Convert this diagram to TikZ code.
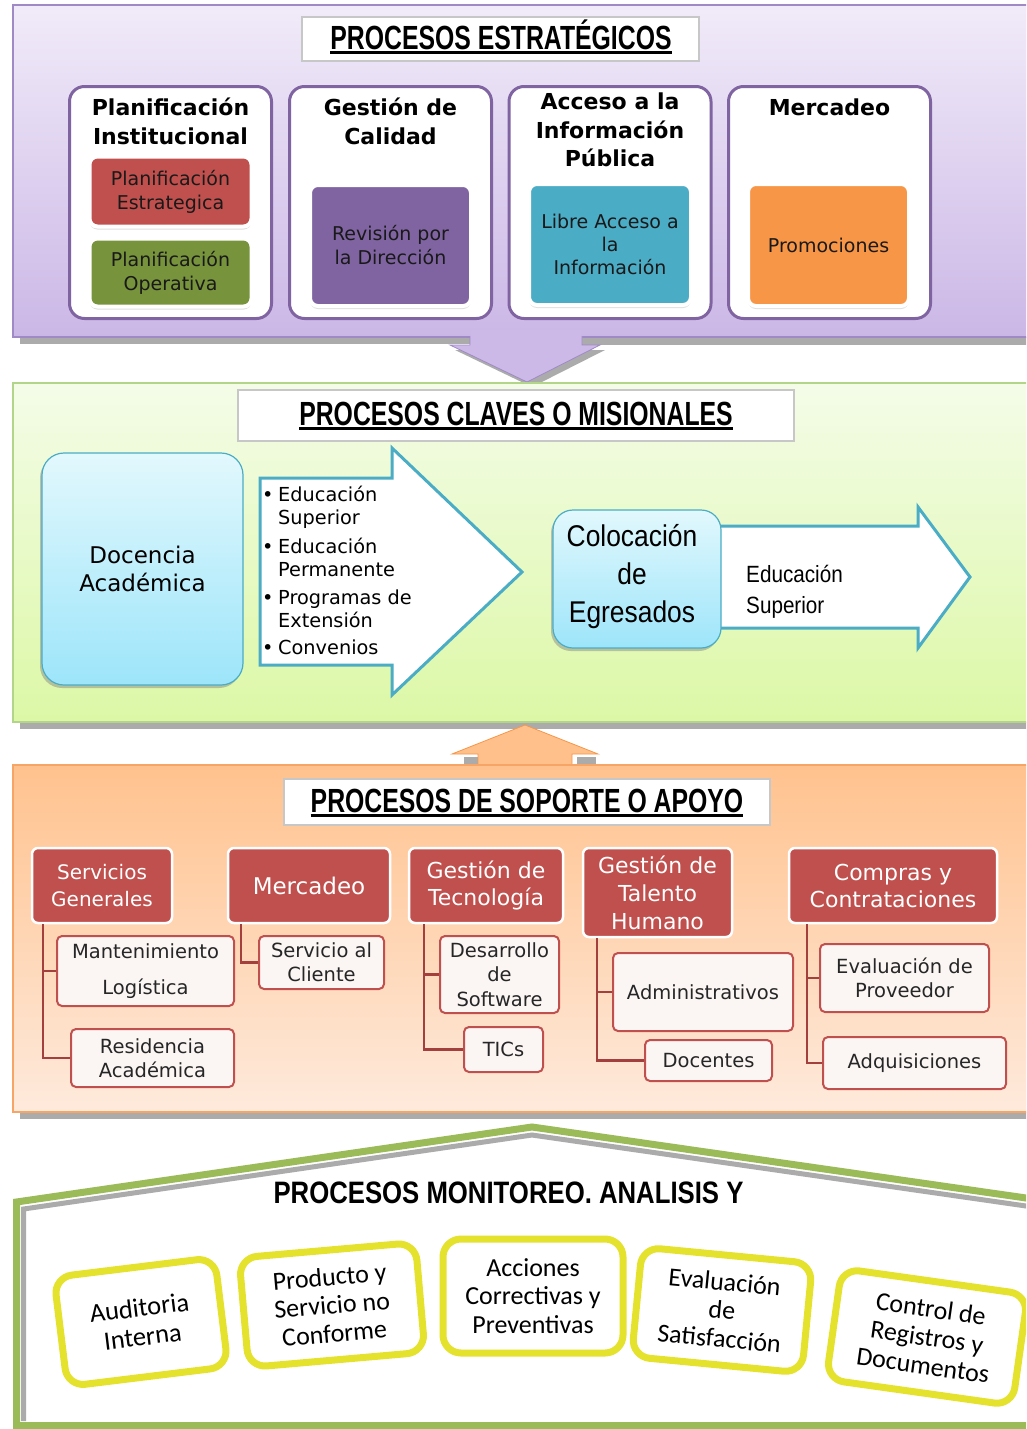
\documentclass[tikz,border=0pt]{standalone}
\usepackage{fontspec}
\setmainfont{DejaVu Sans}
\newfontfamily\titlef[FakeStretch=0.74]{Liberation Sans}
\newfontfamily\titleg[FakeStretch=0.83]{Liberation Sans}
\newfontfamily\narrowf[FakeStretch=0.88]{Liberation Sans}
\newfontfamily\calf{Carlito}
\usetikzlibrary{shadows}
\newcommand{\fsz}[2]{\fontsize{#1}{#2}\selectfont}
\definecolor{purTop}{HTML}{F1EBF9}
\definecolor{purBot}{HTML}{CBB7E6}
\definecolor{purLine}{HTML}{9F8AC6}
\definecolor{boxpur}{HTML}{8064A2}
\definecolor{grTop}{HTML}{F4FCE8}
\definecolor{grBot}{HTML}{DCF8A6}
\definecolor{grLine}{HTML}{B3D58A}
\definecolor{orTop}{HTML}{FFC28E}
\definecolor{orBot}{HTML}{FEEADC}
\definecolor{orLine}{HTML}{F7A467}
\definecolor{cRed}{HTML}{C0504D}
\definecolor{cGreen}{HTML}{77933C}
\definecolor{cPur}{HTML}{8064A2}
\definecolor{cTeal}{HTML}{4BACC6}
\definecolor{cOrange}{HTML}{F79646}
\definecolor{cyTop}{HTML}{E2F8FD}
\definecolor{cyBot}{HTML}{9DE5FA}
\definecolor{cyLine}{HTML}{4BACC6}
\definecolor{connRed}{HTML}{A3403D}
\definecolor{subFill}{HTML}{FBF6F4}
\definecolor{yel}{HTML}{E5E22E}
\definecolor{house}{HTML}{9BBB59}
\definecolor{shdw}{HTML}{ABABAB}
\definecolor{upArr}{HTML}{FFC08C}
\definecolor{dnArr}{HTML}{CDB9E8}
\tikzset{
  secttl/.style={font=\titlef\bfseries\fsz{33.5}{36}, inner sep=0pt, anchor=base},
  ttlbox/.style={draw=black!22, fill=white, line width=1.2pt},
  pbox/.style={draw=boxpur, line width=3pt, rounded corners=15pt, fill=white},
  ptitle/.style={font=\bfseries\fsz{22}{29}, align=center, inner sep=0pt},
  cbox/.style={draw=white, line width=4pt, rounded corners=8pt,
    drop shadow={shadow xshift=0pt, shadow yshift=-3pt, opacity=0.25},
    font=\fsz{19}{24}, align=center, text=black!90, inner sep=2pt},
  cyanbox/.style={rounded corners=22pt, top color=cyTop, bottom color=cyBot,
    draw=cyLine, line width=1.2pt,
    drop shadow={shadow xshift=-2pt, shadow yshift=-3pt, opacity=0.45},
    align=center},
  bigarrow/.style={draw=cyLine, line width=3pt, fill=white, line join=miter},
  hdr/.style={fill=cRed, draw=white, line width=2.5pt, rounded corners=6pt,
    text=white, font=\fsz{22}{27}, align=center, inner sep=1pt},
  sub/.style={fill=subFill, draw=cRed, line width=2pt, rounded corners=5pt,
    font=\fsz{19.5}{24}, align=center, text=black!85, inner sep=1pt},
  conn/.style={draw=connRed, line width=2.5pt},
  ybox/.style={draw=yel, line width=7pt, rounded corners=18pt, fill=white,
    font=\calf\fsz{26}{28.5}, align=center, inner sep=0pt, text=black}
}
\begin{document}
\begin{tikzpicture}[x=1pt,y=-1pt]
\useasboundingbox (0,0) rectangle (1026,1429);
\clip (0,0) rectangle (1026,1429);
\fill[white] (0,0) rectangle (1026,1429);

% ---------- Section 1 : strategic ----------
\fill[shdw] (20,337) rectangle (470,344);
\fill[shdw] (582,337) rectangle (1040,345);
\shadedraw[top color=purTop, bottom color=purBot, draw=purLine, line width=1.2pt] (13,5) rectangle (1040,337);
\fill[shdw] (475,342) -- (475,350) -- (455,350) -- (532,387) -- (605,350) -- (587,350) -- (587,342) -- cycle;
\filldraw[fill=dnArr, draw=purLine, line width=0.8pt] (470,336) -- (470,345) -- (450,345) -- (527,382) -- (600,345) -- (582,345) -- (582,336);
\fill[dnArr] (471,330) rectangle (581,338);

\node[ttlbox, minimum width=397pt, minimum height=44pt] (tb1) at (500.5,39) {};
\node[secttl] (t1) at (501,49) {PROCESOS ESTRATÉGICOS};
\draw[line width=2.6pt] ([yshift=-3.5pt]t1.base west) -- ([yshift=-3.5pt]t1.base east);

\node[pbox, minimum width=202pt, minimum height=232pt] (p1) at (170.5,202.5) {};
\node[pbox, minimum width=202pt, minimum height=232pt] (p2) at (390.5,202.5) {};
\node[pbox, minimum width=202pt, minimum height=232pt] (p3) at (610,202.5) {};
\node[pbox, minimum width=202pt, minimum height=232pt] (p4) at (829.5,202.5) {};

\node[ptitle] (p1t) at (170.5,121) {Planificación\\Institucional};
\node[ptitle] (p2t) at (390.5,121) {Gestión de\\Calidad};
\node[ptitle, font=\bfseries\fsz{22}{28.5}] (p3t) at (610,130) {Acceso a la\\Información\\Pública};
\node[ptitle] (p4t) at (829.5,107) {Mercadeo};

\node[cbox, fill=cRed, minimum width=162pt, minimum height=70pt] (c1) at (170.5,191.5) {Planificación\\Estrategica};
\node[cbox, fill=cGreen, minimum width=162pt, minimum height=68pt] (c2) at (170.5,272.5) {Planificación\\Operativa};
\node[cbox, fill=cPur, minimum width=161pt, minimum height=121pt] (c3) at (390.5,245.5) {Revisión por\\la Dirección};
\node[cbox, fill=cTeal, minimum width=162pt, minimum height=121pt, font=\fsz{19}{23}] (c4) at (610,244.5) {Libre Acceso a\\la\\Información};
\node[cbox, fill=cOrange, minimum width=161pt, minimum height=122pt] (c5) at (828.5,245) {Promociones};

% ---------- Section 2 : key processes ----------
\fill[shdw] (20,722) rectangle (1040,729);
\shadedraw[top color=grTop, bottom color=grBot, draw=grLine, line width=1.2pt] (13,383) rectangle (1040,722);

\node[ttlbox, minimum width=556pt, minimum height=51pt] (tb2) at (516,415.5) {};
\node[secttl] (t2) at (516,425) {PROCESOS CLAVES O MISIONALES};
\draw[line width=2.6pt] ([yshift=-3.5pt]t2.base west) -- ([yshift=-3.5pt]t2.base east);

\node[cyanbox, minimum width=201pt, minimum height=232pt, font=\fsz{23}{28}] (doc) at (142.5,569) {Docencia\\Académica};

\draw[bigarrow] (260,478) -- (392,478) -- (392,448) -- (522,572) -- (392,695) -- (392,665) -- (260,665) -- cycle;
\node[anchor=north west, align=left, font=\fsz{19.3}{23}, inner sep=0pt] (lista) at (262,486)
  {\makebox[16pt][l]{•}Educación\\\hspace*{16pt}Superior\\[6pt]
   \makebox[16pt][l]{•}Educación\\\hspace*{16pt}Permanente\\[5pt]
   \makebox[16pt][l]{•}Programas de\\\hspace*{16pt}Extensión\\[4pt]
   \makebox[16pt][l]{•}Convenios};

\draw[bigarrow] (715,526) -- (918,526) -- (918,507) -- (970,577) -- (918,648) -- (918,628) -- (715,628) -- cycle;
\node[cyanbox, minimum width=168pt, minimum height=138pt, rounded corners=20pt] (col) at (637,579) {};
\node[align=center, inner sep=0pt, font=\narrowf\fsz{30}{38}] (colt) at (632,577) {Colocación\\de\\Egresados};
\node[anchor=west, align=left, inner sep=0pt, font=\narrowf\fsz{23.5}{31}] (edsup) at (746,592) {Educación\\Superior};

% up arrow
\fill[shdw] (483,757) rectangle (464,766);
\fill[shdw] (577,757) rectangle (596,766);
\filldraw[fill=upArr, draw=cOrange, line width=0.8pt] (478,766) -- (478,754) -- (452,754) -- (525,725) -- (598,754) -- (572,754) -- (572,766);

% ---------- Section 3 : support ----------
\fill[shdw] (20,1112) rectangle (1040,1119);
\shadedraw[top color=orTop, bottom color=orBot, draw=orLine, line width=1.2pt] (13,765) rectangle (1040,1112);

\node[ttlbox, minimum width=486pt, minimum height=46pt] (tb3) at (527,802) {};
\node[secttl] (t3) at (527,812) {PROCESOS DE SOPORTE O APOYO};
\draw[line width=2.6pt] ([yshift=-3.5pt]t3.base west) -- ([yshift=-3.5pt]t3.base east);

\node[hdr, minimum width=140pt, minimum height=75pt, font=\fsz{20}{27}] (sg) at (102,885.5) {Servicios\\Generales};
\node[hdr, minimum width=162pt, minimum height=75pt, font=\fsz{23}{27}] (mer) at (309,885.5) {Mercadeo};
\node[hdr, minimum width=154pt, minimum height=75pt] (tec) at (486,885.5) {Gestión de\\Tecnología};
\node[hdr, minimum width=149pt, minimum height=89pt, font=\fsz{22}{28}] (tal) at (657.5,892.5) {Gestión de\\Talento\\Humano};
\node[hdr, minimum width=208pt, minimum height=75pt] (com) at (893,885.5) {Compras y\\Contrataciones};

\node[sub, minimum width=177pt, minimum height=70pt] (man) at (145.5,971) {Mantenimiento\\[12pt]Logística};
\node[sub, minimum width=163pt, minimum height=58pt] (res) at (152.5,1058) {Residencia\\Académica};
\node[sub, minimum width=125pt, minimum height=53pt] (cli) at (321.5,962.5) {Servicio al\\Cliente};
\node[sub, minimum width=119pt, minimum height=77pt, font=\fsz{19.5}{24.5}] (des) at (499.5,974.5) {Desarrollo\\de\\Software};
\node[sub, minimum width=79pt, minimum height=45pt] (tic) at (503.5,1049.5) {TICs};
\node[sub, minimum width=180pt, minimum height=78pt] (adm) at (703,992) {Administrativos};
\node[sub, minimum width=127pt, minimum height=41pt] (dcn) at (708.5,1060.5) {Docentes};
\node[sub, minimum width=169pt, minimum height=68pt] (eva) at (904.5,978) {Evaluación de\\Proveedor};
\node[sub, minimum width=183pt, minimum height=52pt] (adq) at (914.5,1063) {Adquisiciones};

\draw[conn] ([xshift=12pt]sg.south west) |- (man.west);
\draw[conn] ([xshift=12pt]sg.south west) |- (res.west);
\draw[conn] ([xshift=14pt]mer.south west) |- (cli.west);
\draw[conn] ([xshift=16pt]tec.south west) |- (des.west);
\draw[conn] ([xshift=16pt]tec.south west) |- (tic.west);
\draw[conn] ([xshift=15pt]tal.south west) |- (adm.west);
\draw[conn] ([xshift=15pt]tal.south west) |- (dcn.west);
\draw[conn] ([xshift=19pt]com.south west) |- (eva.west);
\draw[conn] ([xshift=19pt]com.south west) |- (adq.west);

% ---------- Section 4 : monitoring ----------
\filldraw[fill=white, draw=house, line width=7pt, line join=miter] (16.5,1202) -- (532,1127) -- (1040,1200) -- (1040,1425.5) -- (16.5,1425.5) -- cycle;
\draw[shdw, line width=5pt] (23.5,1421) -- (23.5,1209) -- (532,1135) -- (1040,1208);

\node[font=\titleg\bfseries\fsz{31}{34}, inner sep=0pt, anchor=base] (t4) at (508.5,1203) {PROCESOS MONITOREO. ANALISIS Y};

\node[ybox, minimum width=162pt, minimum height=110pt, rotate=7, font=\calf\fsz{26.5}{29}] (aud) at (141,1322) {Auditoria\\Interna};
\node[ybox, minimum width=177pt, minimum height=110pt, rotate=5] (pro) at (332,1305) {Producto y\\Servicio no\\Conforme};
\node[ybox, minimum width=180pt, minimum height=114pt] (acc) at (533,1296) {Acciones\\Correctivas y\\Preventivas};
\node[ybox, minimum width=171pt, minimum height=110pt, rotate=-5.5] (sat) at (722,1310) {Evaluación\\de\\Satisfacción};
\node[ybox, minimum width=188pt, minimum height=112pt, rotate=-8] (ctl) at (927,1337) {Control de\\Registros y\\Documentos};
\end{tikzpicture}
\end{document}
